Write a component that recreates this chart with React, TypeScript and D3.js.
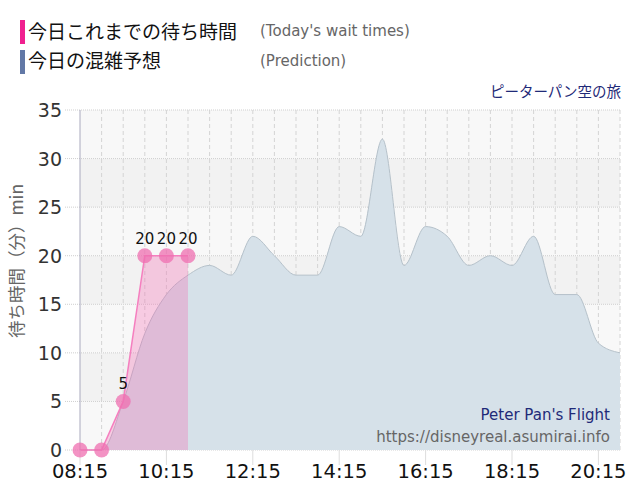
import React from 'react';
import * as d3 from 'd3';

// half-hour slots from 08:15 to 20:45
const times = ['08:15', '08:45', '09:15', '09:45', '10:15', '10:45', '11:15', '11:45', '12:15', '12:45', '13:15', '13:45', '14:15', '14:45', '15:15', '15:45', '16:15', '16:45', '17:15', '17:45', '18:15', '18:45', '19:15', '19:45', '20:15', '20:45'];
const prediction = [0, 0, 5, 12, 16, 18, 19, 18, 22, 20, 18, 18, 23, 22, 32, 19, 23, 22, 19, 20, 19, 22, 16, 16, 11, 10];
const actualTimes = ['08:15', '08:45', '09:15', '09:45', '10:15', '10:45'];
const actual = [0, 0, 5, 20, 20, 20];
const xTickLabels = ['08:15', '10:15', '12:15', '14:15', '16:15', '18:15', '20:15'];
const yTicks = [0, 5, 10, 15, 20, 25, 30, 35];

const W = 640, H = 500;
const margin = { top: 110, right: 20, bottom: 50, left: 80 };
const font = '"DejaVu Sans", Verdana, sans-serif';
const jp = '"Noto Sans CJK JP", sans-serif';

const toMin = (t: string) => { const [h, m] = t.split(':').map(Number); return h * 60 + m; };

export default function App() {
  const iw = W - margin.left - margin.right;
  const ih = H - margin.top - margin.bottom;
  const x = d3.scaleLinear().domain([toMin('08:15'), toMin('20:45')]).range([0, iw]);
  const y = d3.scaleLinear().domain([0, 35]).range([ih, 0]);

  const pred = times.map((t, i) => ({ t: toMin(t), v: prediction[i] }));
  const act = actualTimes.map((t, i) => ({ t: toMin(t), v: actual[i] }));

  const predArea = d3.area<{ t: number; v: number }>().x(d => x(d.t)).y0(ih).y1(d => y(d.v)).curve(d3.curveMonotoneX)(pred) || '';
  const predLine = d3.line<{ t: number; v: number }>().x(d => x(d.t)).y(d => y(d.v)).curve(d3.curveMonotoneX)(pred) || '';
  const actArea = d3.area<{ t: number; v: number }>().x(d => x(d.t)).y0(ih).y1(d => y(d.v))(act) || '';
  const actLine = d3.line<{ t: number; v: number }>().x(d => x(d.t)).y(d => y(d.v))(act) || '';

  const bands = d3.range(0, 35, 5);
  const gridTimes = times.slice(1);

  return (
    <div style={{ position: 'absolute', left: 0, top: 0 }}>
      <svg width={W} height={H} style={{ display: 'block', background: '#fff' }}>
        {/* legend */}
        <rect x={20} y={20} width={5} height={24} fill="#f0208f" />
        <text x={28} y={39} fontFamily={jp} fontSize={19} fill="#111">今日これまでの待ち時間</text>
        <text x={260} y={36} fontFamily={font} fontSize={15} fill="#666">(Today's wait times)</text>
        <rect x={20} y={50} width={5} height={24} fill="#6278a6" />
        <text x={28} y={68} fontFamily={jp} fontSize={19} fill="#111">今日の混雑予想</text>
        <text x={260} y={66} fontFamily={font} fontSize={15} fill="#666">(Prediction)</text>
        <text x={621} y={97} textAnchor="end" fontFamily={jp} fontSize={14.5} fill="#1f2a78">ピーターパン空の旅</text>

        <text transform={`translate(23,${261}) rotate(-90)`} textAnchor="middle" fontFamily={jp} fontSize={17.5} fill="#666">待ち時間（分）min</text>

        <g transform={`translate(${margin.left},${margin.top})`}>
          {bands.map(b => (
            <rect key={b} x={0} y={y(b + 5)} width={iw} height={y(b) - y(b + 5)} fill={(b / 5) % 2 === 0 ? '#f8f8f8' : '#f2f2f2'} />
          ))}
          {gridTimes.map(t => (
            <line key={t} x1={x(toMin(t))} x2={x(toMin(t))} y1={0} y2={ih} stroke="#d4d4d4" strokeDasharray="4,3" />
          ))}
          {yTicks.map(v => (
            <line key={v} x1={-15} x2={iw} y1={y(v)} y2={y(v)} stroke="#cfcfcf" strokeDasharray="1,1" />
          ))}

          <path d={predArea} fill="#d6e1e9" />
          <path d={predLine} fill="none" stroke="#b5c1ca" strokeWidth={1} />
          <path d={actArea} fill="rgba(245,100,175,0.3)" />
          <path d={actLine} fill="none" stroke="#f57fbf" strokeWidth={1.5} />

          {xTickLabels.map(t => (
            <g key={t} transform={`translate(${x(toMin(t))},0)`}>
              <line y1={ih} y2={ih + 15} stroke="#ddd" />
              <text y={ih + 28} textAnchor="middle" fontFamily={font} fontSize={19.5} fill="#111">{t}</text>
            </g>
          ))}
          <line x1={0} x2={0} y1={0} y2={ih} stroke="#a9a9bd" />
          {yTicks.map(v => (
            <text key={v} x={-18} y={y(v) + 7} textAnchor="end" fontFamily={font} fontSize={19} fill="#333">{v}</text>
          ))}

          {act.map((d, i) => (
            <g key={i}>
              <circle cx={x(d.t)} cy={y(d.v)} r={7.5} fill="#ef6fb0" fillOpacity={0.75} />
              {d.v > 0 && (
                <text x={x(d.t)} y={y(d.v) - 12} textAnchor="middle" fontFamily={font} fontSize={15} fill="#111">{d.v}</text>
              )}
            </g>
          ))}

          <text x={iw - 10} y={310} textAnchor="end" fontFamily={font} fontSize={15} fill="#1f2a78">Peter Pan's Flight</text>
          <text x={iw - 10} y={332} textAnchor="end" fontFamily={font} fontSize={15} fill="#666">https://disneyreal.asumirai.info</text>
        </g>
      </svg>
    </div>
  );
}
